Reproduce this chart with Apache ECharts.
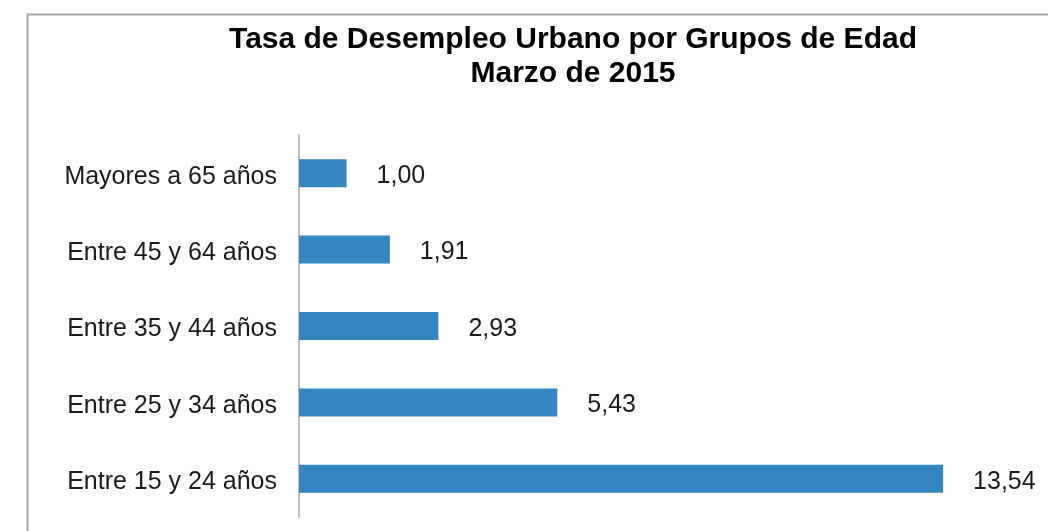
<!DOCTYPE html>
<html>
<head>
<meta charset="utf-8">
<script src="https://cdn.jsdelivr.net/npm/echarts@6/dist/echarts.min.js"></script>
<style>
  html, body { margin: 0; padding: 0; background: #fff; }
  #chart { width: 1048px; height: 531px; }
</style>
</head>
<body>
<div id="chart"></div>
<script>
// categories bottom to top
const ageGroups = ['Entre 15 y 24 años', 'Entre 25 y 34 años', 'Entre 35 y 44 años', 'Entre 45 y 64 años', 'Mayores a 65 años'];
const rates = [13.54, 5.43, 2.93, 1.91, 1.00];

const chart = echarts.init(document.getElementById('chart'));

const fmt = v => v.toFixed(2).replace('.', ',');

chart.setOption({
    animation: false,
    textStyle: { fontFamily: 'Liberation Sans, Arial, sans-serif' },
    title: {
        text: 'Tasa de Desempleo Urbano por Grupos de Edad\nMarzo de 2015',
        left: 568,
        textAlign: 'center',
        top: 18,
        textStyle: { fontSize: 30, fontWeight: 'bold', color: '#000', lineHeight: 34 }
    },
    graphic: [{
        type: 'rect',
        shape: { x: 27.5, y: 14.5, width: 1100, height: 600 },
        style: { fill: 'none', stroke: '#a6a6a6', lineWidth: 2 },
        silent: true
    }],
    grid: { left: 299, right: 83, top: 135, bottom: 14 },
    xAxis: {
        type: 'value',
        min: 0,
        max: 14,
        show: false
    },
    yAxis: {
        type: 'category',
        data: ageGroups,
        axisLine: { show: true, lineStyle: { color: '#bfbfbf', width: 2 } },
        axisTick: { show: false },
        axisLabel: {
            margin: 22,
            formatter: v => '{a|' + v + '}',
            rich: { a: { fontSize: 25, color: '#1a1a1a', padding: [7, 0, 0, 0] } }
        }
    },
    series: [{
        type: 'bar',
        data: rates,
        barWidth: 28,
        itemStyle: { color: '#3485c0' },
        label: {
            show: true,
            position: 'right',
            distance: 30,
            offset: [0, 3],
            fontSize: 25,
            color: '#1a1a1a',
            formatter: p => fmt(p.value)
        }
    }]
});

window.addEventListener('resize', () => chart.resize());
</script>
</body>
</html>
